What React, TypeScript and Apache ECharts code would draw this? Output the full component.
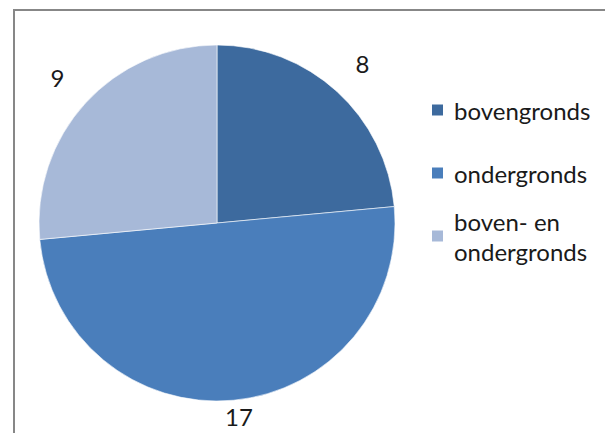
import React, { useEffect, useRef } from "react";
import * as echarts from "echarts";

const categories = ["bovengronds", "ondergronds", "boven- en\nondergronds"];
const values = [8, 17, 9];
const colors = ["#3D6A9E", "#4A7EBB", "#A7B9D8"];

export default function App() {
  const ref = useRef<HTMLDivElement>(null);
  useEffect(() => {
    if (!ref.current) return;
    const chart = echarts.init(ref.current, undefined, { renderer: "svg" });
    const font = "Lato, 'Open Sans', sans-serif";
    const textColor = "#1a1a1a";
    const pieData = categories.map((name, i) => ({
      name,
      value: values[i],
      itemStyle: { color: colors[i] },
    }));
    const labelData = categories.map((name, i) => ({
      name,
      value: values[i],
      label: { offset: i === 1 ? [2, -22] : [0, 0] },
    }));
    const legendTops = [95, 158, 191];
    const legends = categories.map((name, i) => ({
      data: [name],
      left: 430,
      top: legendTops[i],
      padding: 0,
      itemWidth: 13,
      itemHeight: 13,
      icon: "rect",
      selectedMode: false,
      textStyle: {
        fontFamily: font,
        fontSize: 24,
        lineHeight: 30,
        color: textColor,
        padding: i === 2 ? [30, 0, 0, 5] : [0, 0, 0, 5],
      },
    }));
    chart.setOption({
      animation: false,
      backgroundColor: "#ffffff",
      legend: legends,
      graphic: [
        {
          type: "rect",
          shape: { x: 14, y: 10, width: 800, height: 600 },
          style: { fill: "none", stroke: "#878787", lineWidth: 2 },
          silent: true,
        },
      ],
      series: [
        {
          type: "pie",
          center: [217, 223],
          radius: 178,
          startAngle: 90,
          clockwise: true,
          silent: true,
          label: { show: false },
          labelLine: { show: false },
          itemStyle: { borderColor: "#ffffff", borderWidth: 0.6 },
          data: pieData,
        },
        {
          type: "pie",
          center: [217, 223],
          radius: [178, 248],
          startAngle: 90,
          clockwise: true,
          silent: true,
          itemStyle: { color: "rgba(0,0,0,0)", borderWidth: 0 },
          label: {
            show: true,
            position: "inside",
            formatter: "{c}",
            fontFamily: font,
            fontSize: 24,
            color: textColor,
          },
          labelLine: { show: false },
          data: labelData,
        },
      ],
    });
    return () => chart.dispose();
  }, []);
  return (
    <div
      ref={ref}
      style={{ position: "fixed", left: 0, top: 0, width: 605, height: 433, background: "#fff" }}
    />
  );
}
